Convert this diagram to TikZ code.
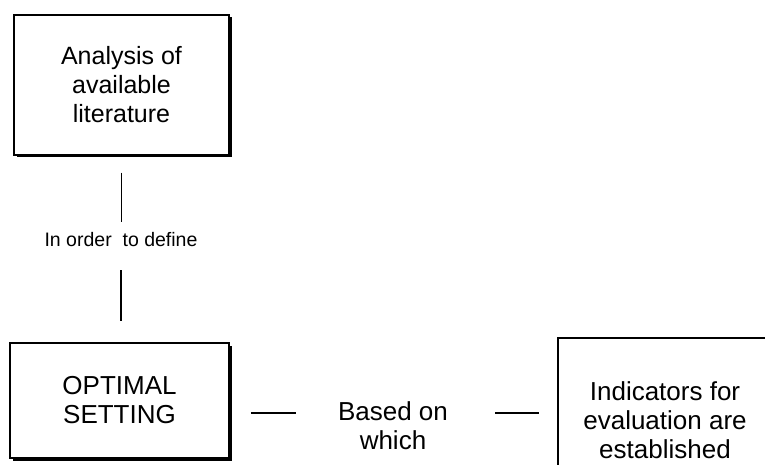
\documentclass[tikz,border=0pt]{standalone}
\usepackage{fontspec}
\setmainfont{Liberation Sans}
\usetikzlibrary{shadows}

\begin{document}
\begin{tikzpicture}[x=1pt,y=1pt,
        box/.style={draw,line width=1.5pt,fill=white,align=center,
            font=\fontsize{25}{29}\selectfont,
            drop shadow={shadow xshift=2.5pt,shadow yshift=-2.5pt,fill=black,opacity=1}},
        lbl/.style={align=center,inner sep=0pt,font=\fontsize{26}{29}\selectfont},
        link/.style={line width=1.6pt}]
            \useasboundingbox (0,0) rectangle (765,-465);
            \clip (0,0) rectangle (765,-465);

            % boxes
            \node[box,minimum width=215pt,minimum height=140pt] (lit) at (121.5,-85) {Analysis of\\available\\literature};
            \node[box,minimum width=219pt,minimum height=115pt,font=\fontsize{26}{29}\selectfont] (opt) at (119.5,-400.5) {OPTIMAL\\SETTING};
            \node[box,minimum width=214pt,minimum height=164pt,font=\fontsize{26}{29}\selectfont] (ind) at (665,-420) {Indicators for\\evaluation are\\established};

            % labels
            \node[inner sep=0pt,font=\fontsize{19.5}{21}\selectfont] (def) at (121,-240) {In order\ \ to define};
            \node[lbl] (base) at (393,-426) {Based on\\which};

            % vertical links
            \draw[link,shorten <=17pt,shorten >=11pt] (lit.south) -- (lit.south |- def.north);
            \draw[link,shorten <=23pt,shorten >=21pt] (def.south) -- (def.south |- opt.north);

            % horizontal links
            \coordinate (h) at ([yshift=-12.5pt]opt.east);
            \draw[link,shorten <=21pt,shorten >=42pt] (h) -- (h -| base.west);
            \draw[link,shorten <=47pt,shorten >=18pt] (h -| base.east) -- (h -| ind.west);
        \end{tikzpicture}
\end{document}
